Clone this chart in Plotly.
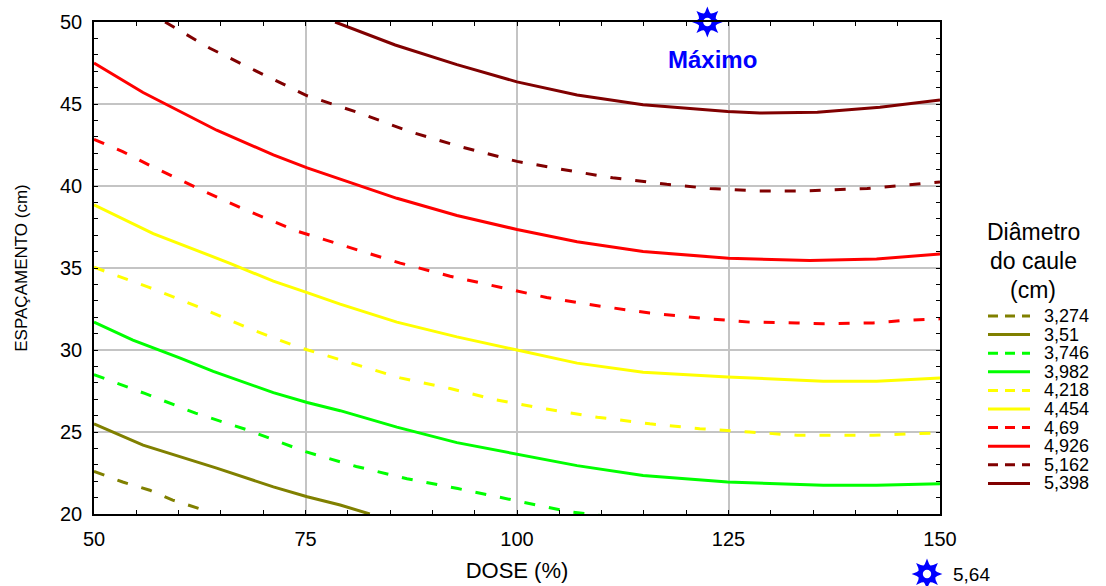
import plotly.graph_objects as go

W, H = 1106, 586

# ---------------- data ----------------
levels = ["3,274", "3,51", "3,746", "3,982", "4,218", "4,454", "4,69", "4,926", "5,162", "5,398"]
level_colors = ["#808000", "#808000", "#00ff00", "#00ff00", "#ffff00",
                "#ffff00", "#ff0000", "#ff0000", "#800000", "#800000"]
level_dashed = [True, False, True, False, True, False, True, False, True, False]

x_3274 = [50, 53.4, 56.6, 59.3, 62.9, 63.8]
y_3274 = [22.6, 21.95, 21.45, 20.85, 20.25, 20.0]

x_351 = [50, 55.8, 64.5, 71.2, 75.2, 79.1, 82.6]
y_351 = [25.5, 24.2, 22.8, 21.65, 21.05, 20.55, 20.0]

x_3746 = [50, 56, 62, 68, 75, 81, 87, 93, 100, 106, 110]
y_3746 = [28.5, 27.35, 26.15, 25.15, 23.8, 22.9, 22.15, 21.55, 20.8, 20.15, 19.9]

x_3982 = [50, 54.6, 60.2, 64.1, 71.2, 75.2, 79.1, 85.8, 92.9, 100, 107.1, 114.9, 124.9, 136.2, 142.5, 150]
y_3982 = [31.7, 30.6, 29.5, 28.7, 27.4, 26.8, 26.3, 25.3, 24.35, 23.65, 22.95, 22.35, 21.95, 21.75, 21.75, 21.85]

x_4218 = [50, 56.6, 62.5, 68.4, 74, 80.3, 86.2, 92.1, 97.6, 103.5, 109.5, 115.7, 121.6, 127.5, 133.1, 142.1, 150]
y_4218 = [35.05, 33.8, 32.6, 31.3, 30.2, 29.2, 28.3, 27.65, 26.95, 26.4, 25.9, 25.5, 25.2, 25.0, 24.8, 24.8, 24.95]

x_4454 = [50, 57, 66, 71.2, 75.2, 79.1, 85.8, 92.9, 100, 107.1, 114.9, 124.9, 136.2, 142.5, 150]
y_4454 = [38.85, 37.1, 35.3, 34.2, 33.5, 32.8, 31.7, 30.8, 30.0, 29.2, 28.65, 28.35, 28.1, 28.1, 28.3]

x_469 = [50, 53.4, 56.6, 62.5, 68.1, 74, 79.9, 86.2, 92.1, 98.3, 103.5, 109.5, 115.7, 121.6, 127.5, 133.1, 136.2, 142.1, 145.6, 150]
y_469 = [42.85, 42.1, 41.25, 39.8, 38.5, 37.25, 36.3, 35.3, 34.5, 33.8, 33.2, 32.7, 32.25, 31.95, 31.7, 31.65, 31.6, 31.65, 31.8, 31.9]

x_4926 = [50, 55.8, 64.5, 71.2, 75.2, 81.1, 85.8, 92.9, 100, 107.1, 114.9, 125, 134.6, 142.5, 150]
y_4926 = [47.5, 45.7, 43.4, 41.9, 41.1, 40.05, 39.25, 38.2, 37.35, 36.6, 36.0, 35.6, 35.45, 35.55, 35.85]

x_5162 = [58.4, 63.7, 69.6, 75.2, 81.4, 87.4, 93.3, 100, 106.6, 111.3, 117.7, 122.8, 128.4, 134.3, 141.4, 146.5, 150]
y_5162 = [50, 48.4, 46.9, 45.5, 44.45, 43.3, 42.4, 41.5, 40.9, 40.5, 40.1, 39.85, 39.7, 39.7, 39.85, 40.1, 40.25]

x_5398 = [78.5, 85.6, 92.9, 100, 107.1, 114.9, 124.9, 128.7, 135.5, 142.9, 150]
y_5398 = [50, 48.6, 47.4, 46.35, 45.55, 44.95, 44.55, 44.45, 44.5, 44.8, 45.25]

curves_x = [x_3274, x_351, x_3746, x_3982, x_4218, x_4454, x_469, x_4926, x_5162, x_5398]
curves_y = [y_3274, y_351, y_3746, y_3982, y_4218, y_4454, y_469, y_4926, y_5162, y_5398]

max_x = [122.5]
max_y = [50.0]
max_label = "Máximo"
max_value = "5,64"

x_ticks = [50, 75, 100, 125, 150]
y_ticks = [20, 25, 30, 35, 40, 45, 50]
legend_title_lines = ["Diâmetro", "do caule", "(cm)"]

# ---------------- layout geometry (pixels) ----------------
PL, PR, PT, PB = 94, 940, 22, 514
FONT = "Liberation Sans, Arial, sans-serif"
BLUE = "#0000ff"


def px(x):
    return x / W


def py(y):
    return (H - y) / H


fig = go.Figure()

for cx, cy, name, col, dashed in zip(curves_x, curves_y, levels, level_colors, level_dashed):
    fig.add_trace(go.Scatter(
        x=cx, y=cy, mode="lines", name=name, showlegend=False,
        line=dict(color=col, width=3, dash="11px,14px" if dashed else "solid"),
        hovertemplate=name + "<br>DOSE=%{x}<br>ESP=%{y}<extra></extra>",
    ))


def sun_traces(xs, ys, xa, ya, size):
    out = []
    for ang in (0, 45):
        out.append(go.Scatter(
            x=xs, y=ys, xaxis=xa, yaxis=ya, mode="markers", showlegend=False,
            cliponaxis=False, hoverinfo="skip",
            marker=dict(symbol="star-diamond", size=size, angle=ang, color=BLUE,
                        line=dict(width=0))))
    out.append(go.Scatter(
        x=xs, y=ys, xaxis=xa, yaxis=ya, mode="markers", showlegend=False,
        cliponaxis=False, hoverinfo="skip",
        marker=dict(symbol="circle", size=size * 0.66, color=BLUE, line=dict(width=0))))
    out.append(go.Scatter(
        x=xs, y=ys, xaxis=xa, yaxis=ya, mode="markers", showlegend=False,
        cliponaxis=False, hoverinfo="skip",
        marker=dict(symbol="circle", size=size * 0.38, color="white", line=dict(width=0))))
    return out


for t in sun_traces(max_x, max_y, "x", "y", 22):
    fig.add_trace(t)

# legend star (figure-fraction overlay axes)
for t in sun_traces([px(927)], [py(574)], "x2", "y2", 22):
    fig.add_trace(t)

annotations = []
annotations.append(dict(x=max_x[0], y=max_y[0], xref="x", yref="y", text="<b>" + max_label + "</b>",
                        showarrow=False, xshift=5, yshift=-37,
                        font=dict(family=FONT, size=24, color=BLUE)))
annotations.append(dict(x=px(951), y=py(574), xref="paper", yref="paper", text=max_value,
                        showarrow=False, xanchor="left", yanchor="middle",
                        font=dict(family=FONT, size=19, color="black")))

# legend title
for i, line in enumerate(legend_title_lines):
    annotations.append(dict(x=px(1033), y=py(232 + 29 * i), xref="paper", yref="paper", text=line,
                            showarrow=False, xanchor="center", yanchor="middle",
                            font=dict(family=FONT, size=23, color="black")))

shapes = []
for i, (name, col, dashed) in enumerate(zip(levels, level_colors, level_dashed)):
    yc = 316 + i * 18.6
    shapes.append(dict(type="line", xref="paper", yref="paper",
                       x0=px(988), x1=px(1030), y0=py(yc), y1=py(yc),
                       line=dict(color=col, width=3, dash="10px,7px" if dashed else "solid")))
    annotations.append(dict(x=px(1042), y=py(yc), xref="paper", yref="paper", text=name,
                            showarrow=False, xanchor="left", yanchor="middle",
                            font=dict(family=FONT, size=18, color="black")))

axis_common = dict(
    showline=True, linecolor="black", linewidth=1.5, mirror="allticks",
    ticks="inside", ticklen=4, tickcolor="black", tickwidth=1,
    showgrid=True, gridcolor="#c4c4c4", gridwidth=1.5, zeroline=False,
    tickfont=dict(family=FONT, size=20, color="black"),
)

fig.update_layout(
    width=W, height=H,
    margin=dict(l=0, r=0, t=0, b=0),
    paper_bgcolor="white", plot_bgcolor="rgba(0,0,0,0)",
    showlegend=False,
    xaxis=dict(domain=[px(PL), px(PR)], range=[50, 150], tickvals=x_ticks,
               anchor="y", automargin=False, ticklabelstandoff=6,
               minor=dict(dtick=5, ticks="inside", ticklen=4, tickcolor="black", showgrid=False),
               title=dict(text="DOSE (%)", font=dict(family=FONT, size=22, color="black"), standoff=14),
               **axis_common),
    yaxis=dict(domain=[(H - PB) / H, (H - PT) / H], range=[20, 50], tickvals=y_ticks,
               anchor="x", automargin=False, ticklabelstandoff=6,
               minor=dict(dtick=1, ticks="inside", ticklen=4, tickcolor="black", showgrid=False),
               title=dict(text="ESPAÇAMENTO (cm)",
                          font=dict(family=FONT, size=17, color="black"),
                          standoff=28),
               **axis_common),
    xaxis2=dict(domain=[0, 1], range=[0, 1], visible=False, anchor="y2", fixedrange=True),
    yaxis2=dict(domain=[0, 1], range=[0, 1], visible=False, anchor="x2", fixedrange=True),
    annotations=annotations,
    shapes=shapes,
)

fig.write_html("out.html")
